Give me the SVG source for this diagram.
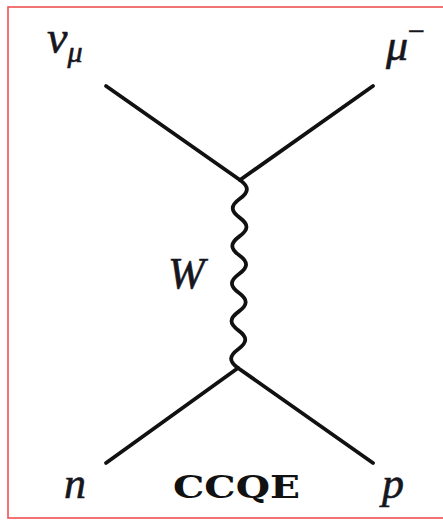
<svg xmlns="http://www.w3.org/2000/svg" width="443" height="526" viewBox="0 0 443 526">
  <style>
    .frame { fill: #ffffff; stroke: #f05050; stroke-width: 1.6; }
    .line { fill: none; stroke: #111111; stroke-width: 3.8; stroke-linecap: round; stroke-linejoin: round; }
    .math { font-family: "Liberation Serif", "DejaVu Serif", serif; font-style: italic; fill: #161620; stroke: #161620; stroke-width: 0.6; }
    .label { font-family: "DejaVu Serif", "Liberation Serif", serif; font-weight: bold; fill: #111111; }
  </style>
  <rect x="0" y="0" width="443" height="526" fill="#ffffff"/>
  <rect class="frame" x="8" y="7" width="470" height="511"/>

  <g id="connectors">
    <line class="line" x1="106" y1="86" x2="240" y2="180"/>
    <line class="line" x1="373" y1="86" x2="240" y2="180"/>
    <path class="line" d="M240,180 C249.3,186.8 249.1,192 239.8,198.8 C230.5,205.6 230.3,210.8 239.6,217.6 C248.9,224.4 248.7,229.6 239.4,236.4 C230.1,243.2 229.9,248.4 239.2,255.2 C248.5,262 248.3,267.2 239,274 C229.7,280.8 229.5,286 238.8,292.8 C248.1,299.6 247.9,304.8 238.6,311.6 C229.3,318.4 229.1,323.6 238.4,330.4 C247.7,337.2 247.5,342.4 238.2,349.2 C228.9,356 228.7,361.2 238,368"/>
    <line class="line" x1="238" y1="368" x2="106" y2="463"/>
    <line class="line" x1="238" y1="368" x2="373" y2="463"/>
  </g>

  <g id="node-numu">
    <text class="math" x="47" y="53" font-size="46">ν<tspan font-size="30" dy="9">μ</tspan></text>
  </g>
  <g id="node-muminus">
    <text class="math" x="386" y="60" font-size="44">μ<tspan font-style="normal" font-size="30" dy="-19">−</tspan></text>
  </g>
  <g id="node-W">
    <text class="math" x="168" y="288" font-size="44">W</text>
  </g>
  <g id="node-n">
    <text class="math" x="64" y="498" font-size="44">n</text>
  </g>
  <g id="node-p">
    <text class="math" x="382" y="498" font-size="44">p</text>
  </g>
  <g id="node-ccqe">
    <text class="label" x="173" y="498" font-size="32" textLength="127" lengthAdjust="spacingAndGlyphs">CCQE</text>
  </g>
</svg>
